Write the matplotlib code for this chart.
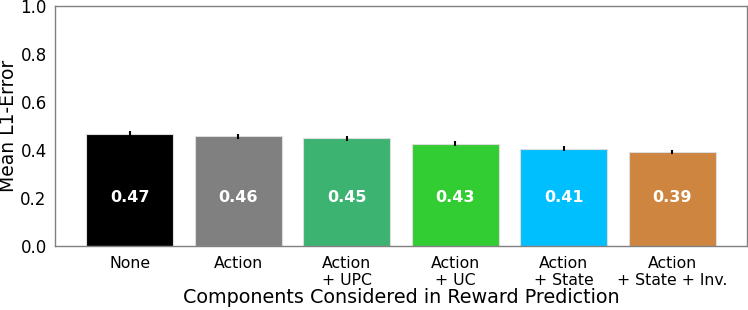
import numpy as np
import matplotlib
matplotlib.use("Agg")
import matplotlib.pyplot as plt

plt.rcParams["font.family"] = ["DejaVu Sans"]

labels = ["None", "Action", "Action\n+ UPC", "Action\n+ UC", "Action\n+ State", "Action\n+ State + Inv."]
values = [0.466, 0.457, 0.449, 0.426, 0.406, 0.392]
errors = [0.012, 0.010, 0.010, 0.010, 0.009, 0.009]
colors = ["black", "gray", "mediumseagreen", "limegreen", "deepskyblue", "peru"]

fig = plt.figure(figsize=(7.48, 3.10), dpi=100)
ax = fig.add_axes([55/748, 1 - 246/310, 692/748, 240/310])

x = np.arange(len(labels))
bars = ax.bar(x, values, width=0.8, color=colors, edgecolor="#dddddd", linewidth=0.8,
              yerr=errors, error_kw=dict(ecolor="black", elinewidth=1.5, capsize=0))
for xi, v in zip(x, values):
    ax.text(xi, 0.2, f"{v:.2f}", ha="center", va="center", color="white",
            fontsize=11.5, fontweight="bold")

ax.set_ylim(0, 1.0)
ax.set_yticks([0.0, 0.2, 0.4, 0.6, 0.8, 1.0])
ax.set_xticks(x)
ax.set_xticklabels(labels, fontsize=11.3, linespacing=1.15)
ax.tick_params(axis="y", labelsize=12, length=0, pad=6)
ax.tick_params(axis="x", length=0, pad=7)
ax.set_ylabel("Mean L1-Error", fontsize=13.5, labelpad=2)
ax.set_xlabel("Components Considered in Reward Prediction", fontsize=13.8, labelpad=0)
for s in ax.spines.values():
    s.set_color("gray")
    s.set_linewidth(1.0)

fig.savefig("out.png", dpi=100)
